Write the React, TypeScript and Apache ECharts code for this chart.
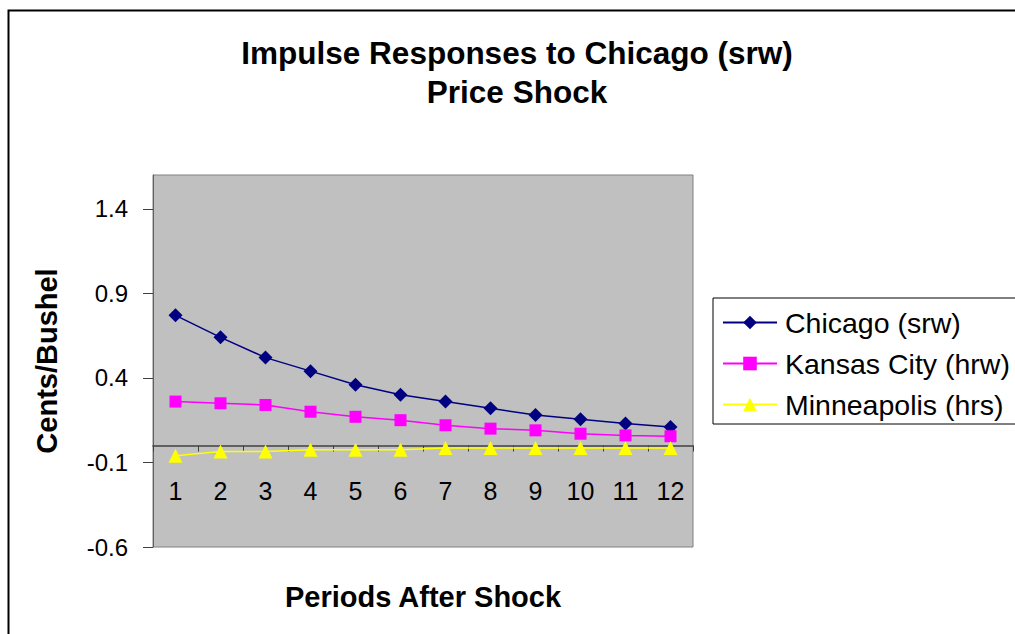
import React, { useEffect, useRef } from "react";
import * as echarts from "echarts";

const periods = ["1", "2", "3", "4", "5", "6", "7", "8", "9", "10", "11", "12"];
const chicago = [0.77, 0.64, 0.52, 0.44, 0.36, 0.3, 0.26, 0.22, 0.18, 0.155, 0.13, 0.11];
const kansasCity = [0.26, 0.25, 0.24, 0.2, 0.17, 0.15, 0.12, 0.1, 0.09, 0.07, 0.06, 0.055];
const minneapolis = [-0.06, -0.035, -0.035, -0.025, -0.025, -0.025, -0.015, -0.015, -0.015, -0.015, -0.015, -0.015];
const yTicks = [-0.6, -0.1, 0.4, 0.9, 1.4];
const yMin = -0.6;
const yMax = 1.6;

const FONT = "'Liberation Sans', Arial, Helvetica, sans-serif";

export default function App() {
  const ref = useRef<HTMLDivElement>(null);
  useEffect(() => {
    if (!ref.current) return;
    const chart = echarts.init(ref.current, null, { renderer: "svg" });
    const gridHeight = 372;
    // place category axis on the value-axis zero line
    const zeroOffset = -((0 - yMin) / (yMax - yMin)) * gridHeight;
    chart.setOption({
      animation: false,
      backgroundColor: "#ffffff",
      textStyle: { fontFamily: FONT },
      title: {
        text: "Impulse Responses to Chicago (srw)\nPrice Shock",
        left: 517,
        top: 33,
        padding: 0,
        textAlign: "center",
        textStyle: { fontFamily: FONT, fontSize: 31.5, fontWeight: "bold", color: "#000", lineHeight: 39 },
      },
      legend: {
        orient: "vertical",
        left: 713,
        top: 298,
        padding: [10, 12, 5, 9],
        itemGap: 12,
        itemWidth: 54,
        itemHeight: 17,
        backgroundColor: "#ffffff",
        borderColor: "#000000",
        borderWidth: 1,
        borderRadius: 0,
        textStyle: { fontFamily: FONT, fontSize: 28.5, color: "#000", lineHeight: 28, padding: [0, 0, 0, 3] },
        data: ["Chicago (srw)", "Kansas City (hrw)", "Minneapolis (hrs)"],
      },
      grid: {
        left: 153,
        top: 175,
        width: 540,
        height: gridHeight,
        show: true,
        backgroundColor: "#C0C0C0",
        borderColor: "#808080",
        borderWidth: 1,
      },
      xAxis: {
        type: "category",
        data: periods,
        boundaryGap: true,
        offset: zeroOffset,
        axisLine: { onZero: false, lineStyle: { color: "#404040", width: 1.5 } },
        axisTick: { show: true, length: 6, inside: false, lineStyle: { color: "#404040" } },
        axisLabel: { fontFamily: FONT, fontSize: 25, color: "#000", margin: 33 },
        splitLine: { show: false },
      },
      yAxis: {
        type: "value",
        min: yMin,
        max: yMax,
        interval: 0.5,
        name: "Cents/Bushel",
        nameLocation: "middle",
        nameGap: 92,
        nameTextStyle: { fontFamily: FONT, fontSize: 29, fontWeight: "bold", color: "#000" },
        axisLine: { show: true, lineStyle: { color: "#606060", width: 1 } },
        axisTick: { show: true, length: 10, customValues: yTicks, lineStyle: { color: "#404040" } },
        axisLabel: {
          fontFamily: FONT,
          fontSize: 24,
          color: "#000",
          margin: 25,
          customValues: yTicks,
          formatter: (v: number) => String(Math.round(v * 10) / 10),
        },
        splitLine: { show: false },
      },
      graphic: [
        {
          type: "rect",
          left: 6,
          top: 8,
          shape: { x: 0, y: 0, width: 1100, height: 700 },
          style: { fill: "none", stroke: "#000", lineWidth: 2 },
          silent: true,
          z: -10,
        },
        {
          type: "text",
          x: 423,
          y: 597,
          style: {
            text: "Periods After Shock",
            fontFamily: FONT,
            fontSize: 29,
            fontWeight: "bold",
            fill: "#000",
            align: "center",
            verticalAlign: "middle",
          },
        },
      ],
      series: [
        {
          name: "Chicago (srw)",
          type: "line",
          data: chicago,
          symbol: "diamond",
          symbolSize: 14,
          itemStyle: { color: "#000080" },
          lineStyle: { color: "#000080", width: 1.5 },
          z: 3,
        },
        {
          name: "Kansas City (hrw)",
          type: "line",
          data: kansasCity,
          symbol: "rect",
          symbolSize: 12,
          itemStyle: { color: "#FF00FF" },
          lineStyle: { color: "#FF00FF", width: 1.5 },
          z: 3,
        },
        {
          name: "Minneapolis (hrs)",
          type: "line",
          data: minneapolis,
          symbol: "triangle",
          symbolSize: 14,
          itemStyle: { color: "#FFFF00" },
          lineStyle: { color: "#FFFF00", width: 1.5 },
          z: 3,
        },
      ],
    });
    return () => chart.dispose();
  }, []);
  return (
    <div
      ref={ref}
      style={{ position: "absolute", left: 0, top: 0, width: 1015, height: 634 }}
    />
  );
}
